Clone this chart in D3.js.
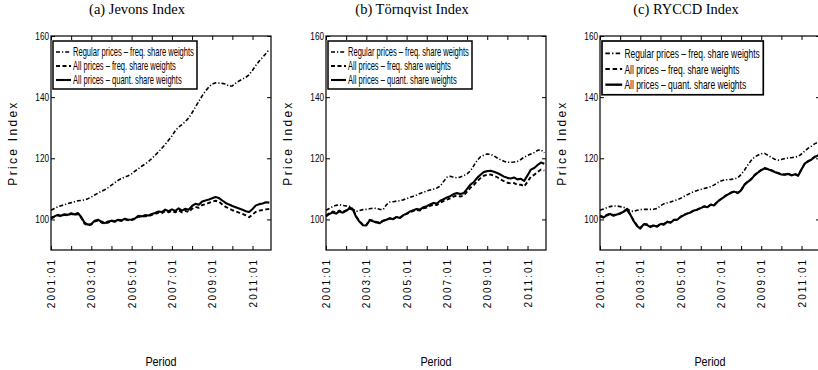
<!DOCTYPE html>
<html>
<head>
<meta charset="utf-8">
<script src="https://cdn.jsdelivr.net/npm/d3@7"></script>
<style>
  body { margin: 0; background: #fff; }
  svg text { font-family: "Liberation Sans", Arial, sans-serif; fill: #000; }
</style>
</head>
<body>
<svg class="chart" width="818" height="370"></svg>
<script>
// months since 2001:01, sampled every second month
var months = d3.range(0, 131, 2);

var titles = ["(a) Jevons Index", "(b) Törnqvist Index", "(c) RYCCD Index"];
var seriesNames = ["Regular prices \u2013 freq. share weights",
                   "All prices \u2013 freq. share weights",
                   "All prices \u2013 quant. share weights"];
var yTicks = [100, 120, 140, 160];
var yearTicks = d3.range(0, 131, 12);
var labelMonths = [0, 24, 48, 72, 96, 120];
var xTickLabels = ["2001:01", "2003:01", "2005:01", "2007:01", "2009:01", "2011:01"];

// (a) Jevons
var jevReg = [103.0,103.6,104.1,104.5,104.8,105.2,105.5,105.8,106.1,106.2,106.4,106.8,107.3,108.0,108.6,109.2,109.7,110.4,111.2,112.0,112.8,113.4,113.9,114.3,114.9,115.8,116.6,117.4,118.1,118.9,119.9,121.0,122.1,123.3,124.5,125.9,127.3,129.0,130.2,131.0,132.0,133.2,134.9,136.8,138.6,140.4,142.0,143.3,144.3,144.7,144.6,144.5,144.3,143.6,143.7,144.6,145.3,145.9,146.5,147.3,148.8,150.4,151.8,153.0,154.3,155.6];
var jevFreq = [100.3,100.8,101.3,101.0,101.5,101.3,101.8,101.4,101.8,100.5,98.6,98.0,98.3,99.3,99.6,99.0,98.6,99.0,99.4,99.2,99.7,99.5,100.0,99.7,99.8,100.1,100.9,100.8,101.1,101.0,101.5,101.8,102.2,102.0,102.7,102.3,102.8,102.3,103.0,102.3,102.8,102.4,103.5,104.1,103.8,104.7,105.0,105.4,105.8,106.1,105.8,104.9,104.1,103.6,103.0,102.6,102.2,101.8,101.3,100.7,101.6,102.5,102.9,103.1,103.3,103.4];
var jevQuant = [100.6,101.0,101.5,101.2,101.7,101.5,102.0,101.6,102.1,100.8,98.9,98.3,98.5,99.6,99.9,99.3,98.8,99.3,99.6,99.4,99.9,99.7,100.2,99.9,100.0,100.3,101.2,101.0,101.4,101.3,101.8,102.1,102.6,102.4,103.2,102.7,103.3,102.8,103.6,102.9,103.5,103.2,104.4,105.1,104.8,105.9,106.2,106.5,106.9,107.3,107.0,106.2,105.4,104.9,104.4,104.0,103.6,103.2,102.7,102.4,103.4,104.6,105.0,105.2,105.6,105.5];

// (b) Tornqvist
var tornReg = [103.0,103.6,104.2,104.6,104.8,104.6,104.4,104.3,103.4,102.6,102.9,103.2,103.3,103.5,103.7,103.6,103.3,103.2,104.8,105.7,105.8,106.0,106.1,106.4,106.8,107.2,107.6,108.0,108.5,108.9,109.3,109.6,109.9,110.3,110.9,112.4,113.8,114.1,113.8,113.6,113.9,114.3,114.9,115.9,117.6,119.3,120.5,121.0,121.4,121.3,120.8,120.1,119.5,119.0,118.7,118.7,118.8,119.0,119.6,120.4,120.9,121.4,121.9,122.6,122.8,121.8];
var tornFreq = [101.3,102.0,102.6,102.2,102.9,102.5,103.0,103.9,103.5,101.0,99.4,98.3,98.2,99.9,99.6,99.2,99.0,99.6,100.0,100.4,100.2,100.8,100.5,101.3,101.8,102.4,102.8,103.1,102.9,103.6,103.9,104.4,104.9,104.7,105.5,106.0,106.5,106.9,107.5,107.8,107.5,107.8,109.1,110.4,111.2,112.5,113.5,114.3,114.6,114.7,114.3,113.8,113.1,112.5,112.0,111.8,111.9,111.3,111.4,110.8,112.3,114.0,114.6,115.5,116.3,116.0];
var tornQuant = [101.0,101.8,102.3,101.9,102.6,102.2,102.8,103.6,103.2,100.8,99.2,98.1,98.0,99.7,99.4,99.0,98.8,99.5,99.9,100.3,100.1,100.8,100.5,101.4,101.9,102.6,103.0,103.4,103.2,104.0,104.3,104.9,105.4,105.2,106.1,106.6,107.2,107.6,108.3,108.6,108.3,108.6,110.0,111.4,112.2,113.6,114.6,115.5,115.8,115.9,115.6,115.2,114.6,114.0,113.6,113.4,113.7,113.1,113.3,112.6,114.4,116.3,116.8,117.8,118.6,118.2];

// (c) RYCCD
var ryccdReg = [103.0,103.4,103.8,104.2,104.4,104.4,104.2,104.0,103.6,102.8,102.6,103.0,103.2,103.3,103.3,103.3,103.3,103.6,104.5,105.1,105.4,105.7,106.1,106.4,106.9,107.5,108.1,108.6,109.1,109.5,109.8,110.1,110.4,110.7,111.3,112.0,112.6,112.9,113.0,113.1,113.3,113.6,114.7,116.1,117.8,119.3,120.4,121.0,121.5,121.6,121.0,120.3,119.7,119.4,119.6,119.9,120.1,120.2,120.4,120.6,121.4,122.4,123.3,124.0,124.8,125.3];
var ryccdFreq = [101.2,100.8,101.5,101.9,101.4,101.8,102.0,102.7,103.4,101.8,99.7,98.1,97.2,98.5,98.4,97.7,98.1,97.8,98.6,98.5,99.3,99.1,99.9,100.0,100.9,101.5,102.0,102.4,103.0,103.3,103.8,104.3,104.1,104.9,104.7,105.9,106.7,107.5,108.2,108.8,109.2,108.7,109.6,111.4,112.4,113.2,114.5,115.4,116.2,116.8,116.5,116.1,115.6,115.2,114.8,114.7,115.0,114.5,114.9,114.4,116.5,118.4,119.1,119.8,120.6,121.0];
var ryccdQuant = [101.0,100.6,101.3,101.8,101.2,101.6,101.9,102.5,103.2,101.6,99.5,97.9,97.0,98.4,98.2,97.5,98.0,97.6,98.5,98.3,99.2,98.9,99.8,99.9,100.8,101.4,101.9,102.3,102.9,103.2,103.7,104.2,104.0,104.8,104.6,105.8,106.6,107.4,108.1,108.7,109.1,108.6,109.5,111.3,112.3,113.1,114.4,115.3,116.1,116.7,116.4,116.0,115.5,115.1,114.7,114.6,114.9,114.4,114.8,114.3,116.4,118.3,119.0,119.6,120.5,120.9];

var panels = [
  { title: titles[0], series: [jevReg, jevFreq, jevQuant], left: 51, legendScale: 1 },
  { title: titles[1], series: [tornReg, tornFreq, tornQuant], left: 326, legendScale: 1 },
  { title: titles[2], series: [ryccdReg, ryccdFreq, ryccdQuant], left: 600, legendScale: 1.12 }
];

var styles = [
  { dash: "4,2,1.2,2", width: 1.6 },
  { dash: "4,2.5", width: 1.9 },
  { dash: null, width: 2.1 }
];

var plotTop = 36,
    width = 220,
    height = 214;

var x = d3.scaleLinear()
  .domain([0, 131])
  .range([0, width]);
var y = d3.scaleLinear()
  .domain([90, 160])
  .range([height, 0]);

var svg = d3.select(".chart");

// condense text horizontally (the original uses a narrow Helvetica)
function squeeze(sel, k) {
  sel.each(function() {
    var w = this.getComputedTextLength();
    d3.select(this).attr("textLength", w * k).attr("lengthAdjust", "spacingAndGlyphs");
  });
}

panels.forEach(function(p) {
  var g = svg.append("g")
    .attr("transform", "translate(" + p.left + "," + plotTop + ")");

  svg.append("text")
    .attr("x", p.left + 86)
    .attr("y", 14)
    .attr("text-anchor", "middle")
    .style("font-family", "'Liberation Serif', 'DejaVu Serif', serif")
    .style("font-size", "14.5px")
    .text(p.title);

  p.series.forEach(function(values, i) {
    var line = d3.line()
      .x(function(d, j) { return x(months[j]); })
      .y(function(d) { return y(d); });
    g.append("path")
      .datum(values)
      .attr("fill", "none")
      .attr("stroke", "#000")
      .attr("stroke-width", styles[i].width)
      .attr("stroke-dasharray", styles[i].dash)
      .attr("stroke-linejoin", "round")
      .attr("d", line);
  });

  // box with inward ticks on all sides
  g.append("g").attr("transform", "translate(0," + height + ")")
    .call(d3.axisBottom(x).tickValues(yearTicks).tickSize(-4).tickSizeOuter(0).tickFormat(""));
  g.append("g")
    .call(d3.axisTop(x).tickValues(yearTicks).tickSize(-4).tickSizeOuter(0).tickFormat(""));
  g.append("g").attr("class", "yleft")
    .call(d3.axisLeft(y).tickValues(yTicks).tickSize(-4).tickSizeOuter(0).tickPadding(2));
  g.append("g").attr("transform", "translate(" + width + ",0)")
    .call(d3.axisRight(y).tickValues(yTicks).tickSize(-4).tickSizeOuter(0).tickFormat(""));
  g.selectAll(".domain").remove();
  g.selectAll(".tick line").attr("stroke-width", 1);

  g.select(".yleft").selectAll("text")
    .style("font-family", "'Liberation Sans', Arial, sans-serif")
    .style("font-size", "10px");
  squeeze(g.select(".yleft").selectAll("text"), 0.82);

  g.append("rect")
    .attr("width", width)
    .attr("height", height)
    .attr("fill", "none")
    .attr("stroke", "#000")
    .attr("stroke-width", 1.2);

  // rotated period labels
  var xl = g.append("g").attr("transform", "translate(0," + height + ")")
    .call(d3.axisBottom(x).tickValues(labelMonths).tickSize(0)
      .tickFormat(function(d, i) { return xTickLabels[i]; }));
  xl.select(".domain").remove();
  xl.selectAll("text")
    .attr("transform", "rotate(-90)")
    .attr("x", -8)
    .attr("y", 0)
    .attr("dy", "0.35em")
    .style("text-anchor", "end")
    .style("font-family", "'Liberation Sans', Arial, sans-serif")
    .style("font-size", "10px")
    .style("letter-spacing", "2px");

  g.append("text")
    .attr("transform", "translate(-38," + (height / 2) + ") rotate(-90)")
    .attr("text-anchor", "middle")
    .attr("dy", "0.35em")
    .style("font-size", "12px")
    .style("letter-spacing", "2.3px")
    .text("Price Index");

  var period = g.append("text")
    .attr("x", width / 2)
    .attr("y", 330)
    .attr("text-anchor", "middle")
    .style("font-size", "12px")
    .text("Period");
  squeeze(period, 0.9);

  // legend
  var lg = g.append("g")
    .attr("transform", "translate(2,5) scale(" + p.legendScale + ")");
  lg.append("rect")
    .attr("width", 144)
    .attr("height", 48)
    .attr("fill", "#fff")
    .attr("stroke", "#000")
    .attr("stroke-width", 1.5);
  seriesNames.forEach(function(name, i) {
    var ry = 11 + i * 14;
    lg.append("line")
      .attr("x1", 3).attr("x2", 18)
      .attr("y1", ry).attr("y2", ry)
      .attr("stroke", "#000")
      .attr("stroke-width", styles[i].width)
      .attr("stroke-dasharray", styles[i].dash);
    // narrow the label with a horizontal scale so its box stays true
    lg.append("g")
      .attr("transform", "translate(20," + ry + ") scale(0.63,1)")
      .append("text")
      .attr("dy", "0.35em")
      .style("font-size", "12px")
      .text(name);
  });
});
</script>
</body>
</html>
